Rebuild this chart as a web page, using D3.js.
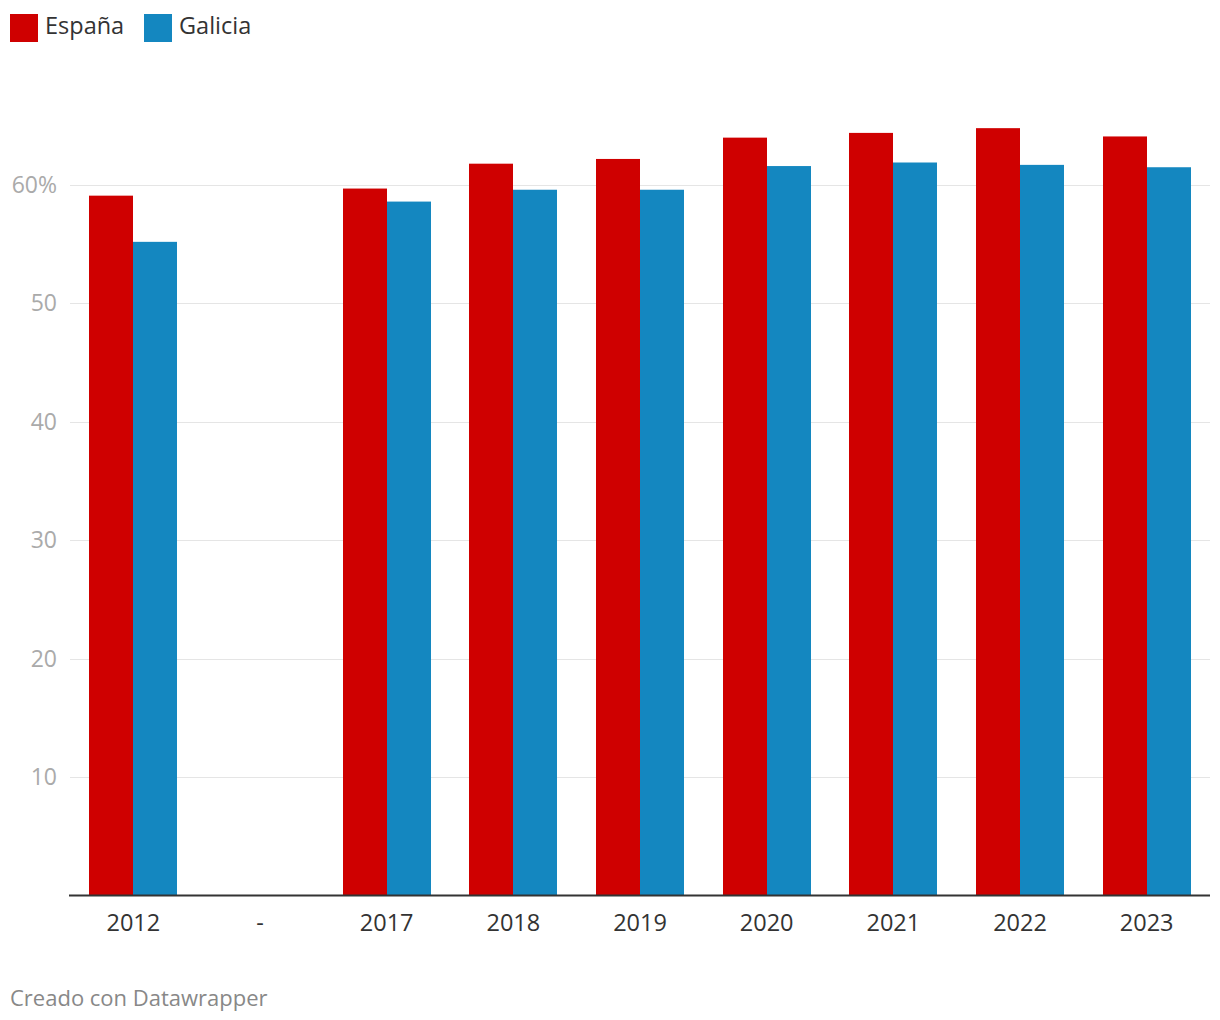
<!DOCTYPE html>
<html>
<head>
<meta charset="utf-8">
<script src="https://cdn.jsdelivr.net/npm/d3@7"></script>
<style>
  body { margin: 0; background: #fff; font-family: "Open Sans", sans-serif; }
  svg { display: block; }
</style>
</head>
<body>
<svg id="chart" width="1220" height="1020"></svg>
<script>
const categories = ["2012", "-", "2017", "2018", "2019", "2020", "2021", "2022", "2023"];
const seriesNames = ["España", "Galicia"];
const espana = [59.1, null, 59.7, 61.8, 62.2, 64.0, 64.4, 64.8, 64.1];
const galicia = [55.2, null, 58.6, 59.6, 59.6, 61.6, 61.9, 61.7, 61.5];
const yTicks = [10, 20, 30, 40, 50, 60];
const colors = ["#cf0000", "#1487c0"];

const svg = d3.select("#chart");
const left = 70, right = 1210;
const baseY = 895.5, y60 = 185;
const yMax = 65;
const y = d3.scaleLinear().domain([0, yMax]).range([baseY, baseY - (baseY - y60) * yMax / 60]);
const x = d3.scaleBand().domain(categories).range([left, right]).paddingInner(0.305).paddingOuter(0.1525);
const xs = d3.scaleBand().domain(seriesNames).range([0, x.bandwidth()]);

// gridlines
const yAxis = d3.axisLeft(y).tickValues(yTicks).tickSize(-(right - left))
  .tickFormat(d => d === 60 ? "60%" : d);
const gy = svg.append("g").attr("transform", `translate(${left},0)`).call(yAxis);
gy.select(".domain").remove();
gy.selectAll(".tick line").attr("stroke", "#e5e5e5").attr("stroke-width", 1)
  .attr("shape-rendering", "crispEdges");
gy.selectAll(".tick text").attr("x", -13).attr("fill", "#aaaaaa")
  .style("font-family", "'Open Sans'").style("font-size", "23px");

// bars
const data = [espana, galicia];
seriesNames.forEach((s, si) => {
  svg.append("g").selectAll("rect")
    .data(categories.map((c, i) => ({ c, v: data[si][i] })).filter(d => d.v != null))
    .join("rect")
    .attr("x", d => Math.round(x(d.c) + xs(s)))
    .attr("width", d => Math.round(x(d.c) + xs(s) + xs.bandwidth()) - Math.round(x(d.c) + xs(s)))
    .attr("y", d => y(d.v))
    .attr("height", d => y(0) - y(d.v))
    .attr("fill", colors[si]);
});

// x axis
const xAxis = d3.axisBottom(x).tickSize(0).tickPadding(19);
const gx = svg.append("g").attr("transform", `translate(0,${baseY})`).call(xAxis);
gx.select(".domain").remove();
gx.append("line").attr("x1", left - 1).attr("x2", right).attr("y1", 0).attr("y2", 0)
  .attr("stroke", "#333").attr("stroke-width", 2);
gx.selectAll(".tick text").attr("fill", "#333")
  .style("font-family", "'Open Sans'").style("font-size", "23.5px");

// legend
const lg = svg.append("g");
let lx = 10;
seriesNames.forEach((s, i) => {
  lg.append("rect").attr("x", lx).attr("y", 14).attr("width", 28).attr("height", 28).attr("fill", colors[i]);
  lg.append("text").attr("x", lx + 35).attr("y", 34)
    .attr("fill", "#333").style("font-family", "'Open Sans'").style("font-size", "23.5px").text(s);
  lx += 134;
});

// footer
svg.append("text").attr("x", 10).attr("y", 1006).attr("fill", "#888")
  .style("font-family", "'Open Sans'").style("font-size", "22px").text("Creado con Datawrapper");
</script>
</body>
</html>
